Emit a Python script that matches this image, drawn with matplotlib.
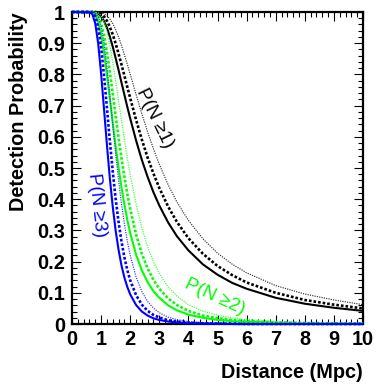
import matplotlib
matplotlib.use("Agg")
import matplotlib.pyplot as plt
from matplotlib.ticker import MultipleLocator

plt.rcParams['font.family'] = ['Liberation Sans', 'DejaVu Sans']

# ---- data (distance in Mpc, detection probability) ----
distance = [0, 0.6, 0.7, 0.8, 0.9, 1.0, 1.1, 1.2, 1.3, 1.4, 1.5, 1.6, 1.7, 1.8, 1.9, 2.0,
            2.2, 2.4, 2.6, 2.8, 3.0, 3.3, 3.6, 4.0, 4.5, 5.0, 5.5, 6, 7, 8, 9, 10]

# P(N>=1) : black
black_solid = [1, 1.000, 1.000, 0.999, 0.995, 0.986, 0.971, 0.950, 0.921, 0.889, 0.852, 0.814,
               0.774, 0.735, 0.696, 0.659, 0.589, 0.526, 0.471, 0.422, 0.380, 0.326, 0.282,
               0.236, 0.191, 0.158, 0.132, 0.113, 0.084, 0.065, 0.052, 0.042]
black_dotted = [1, 1, 1, 1.000, 0.998, 0.994, 0.986, 0.972, 0.952, 0.928, 0.899, 0.866,
                0.832, 0.796, 0.760, 0.724, 0.655, 0.591, 0.533, 0.482, 0.436, 0.377, 0.328,
                0.275, 0.225, 0.186, 0.157, 0.133, 0.100, 0.077, 0.062, 0.050]
black_thin = [1, 1, 1, 1.000, 1.000, 0.998, 0.995, 0.989, 0.978, 0.963, 0.943, 0.920,
              0.893, 0.863, 0.833, 0.801, 0.736, 0.674, 0.615, 0.561, 0.512, 0.447, 0.392,
              0.332, 0.273, 0.227, 0.192, 0.164, 0.123, 0.096, 0.077, 0.062]

# P(N>=2) : green
green_solid = [1, 1.000, 0.998, 0.991, 0.969, 0.928, 0.870, 0.799, 0.722, 0.644, 0.569, 0.501,
               0.438, 0.383, 0.334, 0.292, 0.223, 0.172, 0.134, 0.105, 0.084, 0.060, 0.044,
               0.030, 0.020, 0.013, 0.009, 0.007, 0.004, 0.002, 0.001, 0.001]
green_dotted = [1, 1.000, 1.000, 0.997, 0.987, 0.964, 0.926, 0.872, 0.808, 0.738, 0.667, 0.597,
                0.532, 0.472, 0.417, 0.369, 0.288, 0.225, 0.178, 0.141, 0.113, 0.082, 0.061,
                0.042, 0.027, 0.019, 0.013, 0.009, 0.005, 0.003, 0.002, 0.001]
green_thin = [1, 1.000, 1.000, 1.000, 0.997, 0.988, 0.969, 0.938, 0.894, 0.840, 0.780, 0.717,
              0.653, 0.592, 0.533, 0.479, 0.385, 0.308, 0.247, 0.199, 0.162, 0.119, 0.090,
              0.062, 0.041, 0.028, 0.020, 0.014, 0.008, 0.005, 0.003, 0.002]

# P(N>=3) : blue
blue_solid = [1, 0.999, 0.993, 0.963, 0.899, 0.803, 0.689, 0.574, 0.467, 0.376, 0.299, 0.238,
              0.188, 0.149, 0.119, 0.095, 0.061, 0.040, 0.027, 0.018, 0.013, 0.008, 0.005,
              0.003, 0.002, 0.001, 0.000, 0, 0, 0, 0, 0]
blue_dotted = [1, 1.000, 0.998, 0.987, 0.952, 0.887, 0.797, 0.693, 0.587, 0.489, 0.401, 0.327,
               0.265, 0.214, 0.173, 0.140, 0.093, 0.062, 0.042, 0.029, 0.021, 0.012, 0.008,
               0.004, 0.002, 0.001, 0.001, 0.000, 0, 0, 0, 0]
blue_thin = [1, 1.000, 1.000, 0.997, 0.986, 0.955, 0.901, 0.824, 0.734, 0.639, 0.546, 0.461,
             0.386, 0.321, 0.266, 0.220, 0.151, 0.104, 0.072, 0.051, 0.036, 0.022, 0.014,
             0.008, 0.004, 0.003, 0.002, 0.001, 0.000, 0, 0, 0]

x_ticks = list(range(0, 11))
y_ticks = [0, 0.1, 0.2, 0.3, 0.4, 0.5, 0.6, 0.7, 0.8, 0.9, 1]
y_tick_labels = ['0', '0.1', '0.2', '0.3', '0.4', '0.5', '0.6', '0.7', '0.8', '0.9', '1']

BLUE = '#0000ff'
GREEN = '#00ff00'
BLACK = '#000000'

W, H = 379, 385
fig = plt.figure(figsize=(W / 100, H / 100), dpi=100)
ax = fig.add_axes([72 / W, (H - 324) / H, 291 / W, 312 / H])

thick_dot = (0, (1, 0.75))
thin_dot = (0, (1, 1))
series = [
    (black_thin, '#333333', 0.85, thin_dot),
    (black_dotted, BLACK, 1.9, thick_dot),
    (black_solid, BLACK, 1.5, '-'),
    (green_thin, '#33ff33', 0.85, thin_dot),
    (green_dotted, GREEN, 1.9, thick_dot),
    (green_solid, GREEN, 1.5, '-'),
    (blue_thin, '#3333ff', 0.85, thin_dot),
    (blue_dotted, BLUE, 1.9, thick_dot),
    (blue_solid, BLUE, 1.5, '-'),
]
for ys, c, lw, ls in series:
    ax.plot(distance, ys, color=c, lw=lw, linestyle=ls, clip_on=False, zorder=3,
            solid_capstyle='butt', dash_capstyle='butt')

ax.set_xlim(0, 10)
ax.set_ylim(0, 1)
ax.set_xticks(x_ticks)
ax.set_xticklabels([str(t) for t in x_ticks])
ax.set_yticks(y_ticks)
ax.set_yticklabels(y_tick_labels)
ax.xaxis.set_minor_locator(MultipleLocator(0.2))
ax.yaxis.set_minor_locator(MultipleLocator(0.02))
ax.tick_params(which='both', direction='in', top=True, right=True, width=0.8)
ax.tick_params(which='major', length=6.5, labelsize=14.3)
ax.tick_params(which='minor', length=3.3)
ax.tick_params(axis='x', which='major', pad=4.3)
ax.tick_params(axis='y', which='major', pad=5)
for lab in ax.get_xticklabels() + ax.get_yticklabels():
    lab.set_fontweight('bold')
for sp in ax.spines.values():
    sp.set_linewidth(1.6)

fig.text(363 / W, 1 - 372 / H, 'Distance (Mpc)', fontsize=14.3, fontweight='bold',
         ha='right', va='center')
fig.text(19 / W, 1 - 12 / H, 'Detection Probability', fontsize=14.3, fontweight='bold',
         rotation=90, ha='center', va='top')

ax.text(2.85, 0.66, 'P(N \u22651)', color=BLACK, fontsize=13.5, rotation=-64,
        ha='center', va='center')
ax.text(0.86, 0.38, 'P(N \u22653)', color=BLUE, fontsize=13.5, rotation=-84,
        ha='center', va='center')
ax.text(4.91, 0.087, 'P(N \u22652)', color=GREEN, fontsize=13.5, rotation=-25,
        ha='center', va='center')

fig.savefig('out.png', dpi=100)
